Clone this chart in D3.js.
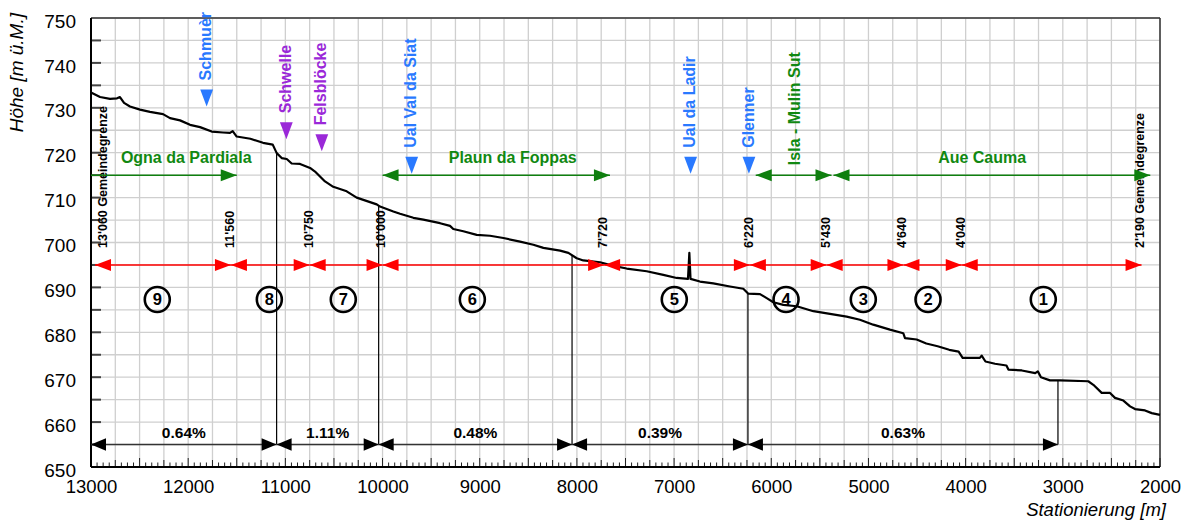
<!DOCTYPE html>
<html><head><meta charset="utf-8">
<script src="https://cdn.jsdelivr.net/npm/d3@7"></script>
<style>
body{margin:0;background:#fff;}
svg{display:block;font-family:"Liberation Sans",Arial,Helvetica,sans-serif;}
</style>
</head><body>
<svg id="chart" width="1189" height="523"></svg>
<script>
// ---------------- DATA ----------------
const profileStation = [13000,12907,12804,12732,12702,12660,12599,12496,12393,12259,12187,12084,11981,11878,11758,11642,11570,11542,11501,11360,11230,11130,11089,11038,10986,10935,10849,10746,10695,10592,10507,10369,10266,10060,10026,9889,9820,9683,9580,9408,9306,9272,9169,9031,8894,8757,8585,8448,8345,8173,8088,8002,7934,7762,7625,7488,7282,7111,6973,6857,6843,6831,6734,6597,6425,6288,6236,6116,6047,5979,5876,5738,5567,5396,5224,5088,4951,4779,4642,4624,4504,4405,4288,4169,4072,4031,3854,3835,3796,3698,3580,3560,3422,3284,3257,3225,3132,3029,2738,2686,2600,2514,2463,2377,2308,2257,2154,2085,2000];
const profileElevation = [733.4,732.4,732.0,732.1,732.4,731.1,730.3,729.6,729.1,728.6,727.7,727.2,726.2,725.7,724.7,724.5,724.4,724.8,723.6,723.1,722.2,721.8,719.9,718.8,718.6,717.6,717.5,716.6,715.8,713.6,712.4,711.4,710.0,708.5,708.0,706.9,706.4,705.5,705.1,704.3,703.7,703.0,702.5,701.7,701.5,701.0,700.2,699.5,698.8,698.2,697.7,696.5,696.0,695.6,694.8,694.2,693.6,692.8,692.1,691.9,697.7,691.9,691.3,690.9,690.2,689.7,688.6,688.5,687.6,686.7,686.1,685.8,684.7,684.1,683.5,682.8,681.7,680.6,679.8,678.7,678.4,677.5,676.9,676.1,675.7,674.3,674.3,674.8,673.5,673.0,672.6,671.7,671.5,670.9,671.3,670.0,669.3,669.3,669.1,668.3,666.5,666.5,665.4,664.8,663.5,662.9,662.6,662.0,661.6];

const xTickValues = [13000,12000,11000,10000,9000,8000,7000,6000,5000,4000,3000,2000];
const yTickValues = [650,660,670,680,690,700,710,720,730,740,750];

// river sections (red)
const sectionBounds = [13060,11560,10750,10000,7720,6220,5430,4640,4040,2190];
const sectionBoundLabels = ["13'060 Gemeindegrenze","11'560","10'750","10'000","7'720","6'220","5'430","4'640","4'040","2'190 Gemeindegrenze"];
const sectionNumbers = [9,8,7,6,5,4,3,2,1];
const sectionNumberStations = [12318,11165,10404,9076,6998,5848,5053,4387,3201];

// gradient reaches (black)
const gradientBounds = [13000,11090,10040,8050,6240,3050];
const gradientLabels = ["0.64%","1.11%","0.48%","0.39%","0.63%"];

// named reaches (green)
const reachNames = ["Ogna da Pardiala","Plaun da Foppas","Isla - Mulin Sut","Aue Cauma"];
const reachStart = [13060,10000,6160,5360];
const reachEnd = [11500,7660,5380,2100];
const reachLabelStation = [12020,8660,5760,3830];
const reachLabelVertical = [false,false,true,false];

// point markers (tributaries blue, features purple)
const markerNames = ["Schmuèr","Schwelle","Felsblöcke","Ual Val da Siat","Ual da Ladir","Glenner"];
const markerStation = [11810,10990,10625,9700,6830,6230];
const markerElevation = [730.3,723.0,720.3,715.3,715.3,715.3];
const markerType = ["tributary","feature","feature","tributary","tributary","tributary"];

// ---------------- DRAW ----------------
const svg = d3.select("#chart");
const x = d3.scaleLinear().domain([13000,2000]).range([91,1160]);
const y = d3.scaleLinear().domain([650,750]).range([467,18]);
const x0 = x.range()[0], x1 = x.range()[1], y0 = y.range()[0], y1 = y.range()[1];

const RED = "#ff0000", GREEN = "#118811", GREEN_ARROW = "#0f7f0f";
const BLUE = "#2979ff", PURPLE = "#9a28d8";

function tri(tipX, tipY, dir, len, half){
  const bx = tipX - dir*len;
  return `M${tipX},${tipY}L${bx},${tipY-half}L${bx},${tipY+half}Z`;
}
function elevAt(s){
  for(let i=0;i<profileStation.length-1;i++){
    const a=profileStation[i], b=profileStation[i+1];
    if(s<=a && s>=b){
      const t=(a-s)/(a-b);
      return profileElevation[i]+t*(profileElevation[i+1]-profileElevation[i]);
    }
  }
  return profileElevation[profileElevation.length-1];
}

// grid
const grid = svg.append("g").attr("stroke","#cfcfcf").attr("stroke-width",1.3);
grid.selectAll("line.v").data(d3.range(2000,13001,250)).join("line")
  .attr("x1",d=>x(d)).attr("x2",d=>x(d)).attr("y1",y1).attr("y2",y0);
grid.selectAll("line.h").data(d3.range(650,751,5)).join("line")
  .attr("x1",x0).attr("x2",x1).attr("y1",d=>y(d)).attr("y2",d=>y(d));

// frame top/right
svg.append("line").attr("x1",x0).attr("x2",x1).attr("y1",y1).attr("y2",y1).attr("stroke","#333").attr("stroke-width",1.5);
svg.append("line").attr("x1",x1).attr("x2",x1).attr("y1",y1).attr("y2",y0).attr("stroke","#333").attr("stroke-width",1.5);

// y ticks (inward) every 5 m
svg.append("g").selectAll("line").data(d3.range(655,750,5)).join("line")
  .attr("x1",x0).attr("x2",x0+10).attr("y1",d=>y(d)).attr("y2",d=>y(d))
  .attr("stroke","#444").attr("stroke-width",2);

// x ticks (inward)
svg.append("g").selectAll("line").data(d3.range(2000,13000.1,62.5)).join("line")
  .attr("x1",d=>x(d)).attr("x2",d=>x(d)).attr("y1",y0)
  .attr("y2",d=> (d%500===0) ? y0-9 : (d%250===0 ? y0-7 : y0-4.5))
  .attr("stroke","#222").attr("stroke-width",1);

// axes lines
svg.append("line").attr("x1",x0).attr("x2",x0).attr("y1",y1).attr("y2",y0).attr("stroke","#000").attr("stroke-width",2);
svg.append("line").attr("x1",x0).attr("x2",x1).attr("y1",y0).attr("y2",y0).attr("stroke","#000").attr("stroke-width",2);

// tick labels via d3 axes (lines hidden)
const yAxis = svg.append("g").attr("transform",`translate(${x0},0)`)
  .call(d3.axisLeft(y).tickValues(yTickValues).tickSize(0).tickPadding(15));
yAxis.select(".domain").remove();
yAxis.selectAll("text").attr("font-size",19).attr("font-family","Liberation Sans, Arial, sans-serif").attr("fill","#000").attr("dy","0.48em");

const xAxis = svg.append("g").attr("transform",`translate(0,${y0})`)
  .call(d3.axisBottom(x).tickValues(xTickValues).tickSize(0).tickPadding(13).tickFormat(d3.format("d")));
xAxis.select(".domain").remove();
xAxis.selectAll("text").attr("font-size",18.5).attr("font-family","Liberation Sans, Arial, sans-serif").attr("fill","#000");

// axis titles
svg.append("text").attr("transform",`translate(23,13) rotate(-90)`).attr("text-anchor","end")
  .attr("font-size",19).attr("font-style","italic").text("Höhe [m ü.M.]");
svg.append("text").attr("x",1166).attr("y",516).attr("text-anchor","end")
  .attr("font-size",18.5).attr("font-style","italic").text("Stationierung [m]");

// gradient vertical lines
svg.append("g").selectAll("line").data(gradientBounds.slice(1)).join("line")
  .attr("x1",d=>x(d)).attr("x2",d=>x(d)).attr("y1",d=>y(elevAt(d))).attr("y2",y(655))
  .attr("stroke","#000").attr("stroke-width",1.2);

// profile line
const profile = profileStation.map((s,i)=>[s,profileElevation[i]]);
svg.append("path").datum(profile)
  .attr("d",d3.line().x(d=>x(d[0])).y(d=>y(d[1])))
  .attr("fill","none").attr("stroke","#000").attr("stroke-width",2.2).attr("stroke-linejoin","round");

// gradient arrows
const gy = y(655);
const gG = svg.append("g");
for(let i=0;i<gradientLabels.length;i++){
  const a = x(gradientBounds[i]), b = x(gradientBounds[i+1]);
  gG.append("line").attr("x1",a).attr("x2",b).attr("y1",gy).attr("y2",gy).attr("stroke","#333").attr("stroke-width",1.5);
  gG.append("path").attr("d",tri(a,gy,-1,15,6.3)).attr("fill","#000");
  gG.append("path").attr("d",tri(b,gy,1,15,6.3)).attr("fill","#000");
  gG.append("text").attr("x",(a+b)/2).attr("y",gy-7).attr("text-anchor","middle")
    .attr("font-size",15.5).attr("font-weight","bold").text(gradientLabels[i]);
}

// red sections
const ry = y(695);
const bx = s => Math.max(x(s), x0+4);
const rG = svg.append("g");
for(let i=0;i<sectionNumbers.length;i++){
  const a = bx(sectionBounds[i]), b = bx(sectionBounds[i+1]);
  rG.append("line").attr("x1",a).attr("x2",b).attr("y1",ry).attr("y2",ry).attr("stroke",RED).attr("stroke-width",1.5);
  rG.append("path").attr("d",tri(a,ry,-1,16,6)).attr("fill",RED);
  rG.append("path").attr("d",tri(b,ry,1,16,6)).attr("fill",RED);
}
rG.selectAll("text.bl").data(sectionBounds).join("text")
  .attr("transform",(d)=>{
    const lx = x(d) < x0 ? bx(d)+8 : x(d)-1.5;
    return `translate(${lx},${ry-17}) rotate(-90)`;
  })
  .attr("dy","0.35em").attr("text-anchor","start")
  .attr("font-size",12.5).attr("font-weight","bold").attr("fill","#000")
  .text((d,i)=>sectionBoundLabels[i]);

// circled numbers
const cy = y(687.3);
const cG = svg.append("g");
cG.selectAll("circle").data(sectionNumberStations).join("circle")
  .attr("cx",d=>x(d)).attr("cy",cy).attr("r",12.5)
  .attr("fill","none").attr("stroke","#000").attr("stroke-width",2.6);
cG.selectAll("text").data(sectionNumberStations).join("text")
  .attr("x",d=>x(d)).attr("y",cy).attr("dy","0.36em").attr("text-anchor","middle")
  .attr("font-size",16.5).attr("font-weight","bold").text((d,i)=>sectionNumbers[i]);

// green reaches
const gry = y(715);
const grG = svg.append("g");
for(let i=0;i<reachNames.length;i++){
  const sIn = reachStart[i] <= 13000;
  const a = sIn ? x(reachStart[i]) : x0, b = x(reachEnd[i]);
  grG.append("line").attr("x1",a).attr("x2",b).attr("y1",gry).attr("y2",gry).attr("stroke",GREEN_ARROW).attr("stroke-width",1.5);
  if(sIn) grG.append("path").attr("d",tri(a,gry,-1,16,6)).attr("fill",GREEN_ARROW);
  grG.append("path").attr("d",tri(b,gry,1,16,6)).attr("fill",GREEN_ARROW);
  const lx = x(reachLabelStation[i]);
  if(reachLabelVertical[i]){
    grG.append("text").attr("transform",`translate(${lx},${gry-10}) rotate(-90)`)
      .attr("dy","0.35em").attr("text-anchor","start")
      .attr("font-size",16).attr("font-weight","bold").attr("fill",GREEN).text(reachNames[i]);
  } else {
    grG.append("text").attr("x",lx).attr("y",gry-12).attr("text-anchor","middle")
      .attr("font-size",16).attr("font-weight","bold").attr("fill",GREEN).text(reachNames[i]);
  }
}

// markers
const mG = svg.append("g");
markerNames.forEach((name,i)=>{
  const mx = x(markerStation[i]), tipY = y(markerElevation[i]);
  const col = markerType[i]==="tributary" ? BLUE : PURPLE;
  const topY = tipY - 17;
  mG.append("path").attr("d",`M${mx},${tipY}L${mx-6.4},${topY}L${mx+6.4},${topY}Z`).attr("fill",col);
  mG.append("text").attr("transform",`translate(${mx-1},${topY-9}) rotate(-90)`)
    .attr("dy","0.35em").attr("text-anchor","start")
    .attr("font-size",16).attr("font-weight","bold").attr("fill",col).text(name);
});
</script>
</body></html>
